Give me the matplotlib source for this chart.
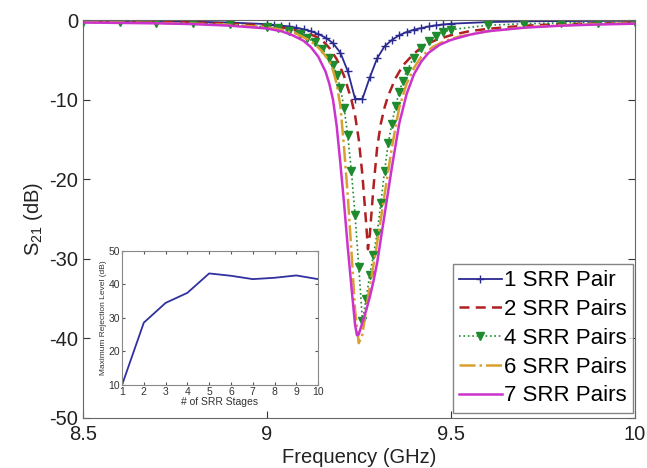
import matplotlib
matplotlib.use("Agg")
import matplotlib.pyplot as plt

plt.rcParams['font.family'] = ['Liberation Sans', 'DejaVu Sans']
plt.rcParams['mathtext.default'] = 'regular'
plt.rcParams['axes.unicode_minus'] = False

# ---- main plot data ----
f_1 = [8.5, 8.6, 8.7, 8.8, 8.9, 9.0, 9.02, 9.04, 9.06, 9.08, 9.10, 9.12, 9.14, 9.16,
       9.18, 9.20, 9.22, 9.24, 9.26, 9.28, 9.30, 9.32, 9.34, 9.36, 9.38, 9.40, 9.42,
       9.44, 9.46, 9.48, 9.50, 9.6, 9.7, 9.8, 9.9, 10.0]
s_1 = [-0.1, -0.12, -0.15, -0.2, -0.3, -0.5, -0.6, -0.7, -0.8, -0.95, -1.15, -1.4, -1.75, -2.2,
       -2.9, -4.1, -6.4, -9.9, -9.9, -7.2, -4.8, -3.3, -2.5, -1.9, -1.5, -1.2, -1.0,
       -0.8, -0.65, -0.55, -0.45, -0.25, -0.15, -0.12, -0.1, -0.08]

f_2 = [8.5, 8.6, 8.7, 8.8, 8.9, 9.0, 9.05, 9.10, 9.13, 9.15, 9.17, 9.19, 9.21, 9.23, 9.24,
       9.25, 9.26, 9.27, 9.275, 9.28, 9.29, 9.30, 9.31, 9.32, 9.33, 9.35, 9.37, 9.40, 9.43,
       9.46, 9.50, 9.55, 9.6, 9.7, 9.8, 9.9, 10.0]
s_2 = [-0.15, -0.18, -0.22, -0.3, -0.45, -0.7, -1.0, -1.5, -2.0, -2.5, -3.5, -4.9, -7.0, -10.0, -12.0,
       -15.0, -19.5, -25.5, -28.8, -27.0, -21.0, -16.0, -13.0, -11.0, -9.5, -7.3, -5.7, -4.2, -3.1,
       -2.5, -1.9, -1.4, -1.1, -0.7, -0.5, -0.4, -0.3]

f_4 = [8.5, 8.6, 8.7, 8.8, 8.9, 9.0, 9.03, 9.06, 9.09, 9.11, 9.13, 9.15, 9.17, 9.18, 9.19,
       9.20, 9.21, 9.22, 9.23, 9.24, 9.25, 9.26, 9.27, 9.28, 9.29, 9.30, 9.31, 9.32, 9.33,
       9.34, 9.35, 9.36, 9.37, 9.38, 9.40, 9.42, 9.44, 9.46, 9.48, 9.50, 9.6, 9.7, 9.8, 9.9, 10.0]
s_4 = [-0.2, -0.25, -0.3, -0.4, -0.55, -0.85, -1.05, -1.35, -1.75, -2.2, -2.8, -3.6, -4.8, -5.7, -6.9,
       -8.5, -11.0, -14.5, -19.0, -24.5, -31.0, -37.8, -35.0, -32.0, -29.5, -26.8, -23.0, -19.0, -15.5,
       -13.0, -10.8, -9.0, -7.6, -6.4, -4.7, -3.5, -2.6, -2.0, -1.5, -1.2, -0.65, -0.45, -0.35, -0.3, -0.25]

f_6 = [8.5, 8.6, 8.7, 8.8, 8.9, 9.0, 9.04, 9.08, 9.11, 9.13, 9.15, 9.17, 9.18, 9.19, 9.20,
       9.21, 9.22, 9.23, 9.24, 9.25, 9.26, 9.27, 9.28, 9.29, 9.30, 9.32, 9.34, 9.36, 9.38,
       9.40, 9.42, 9.45, 9.48, 9.52, 9.6, 9.7, 9.8, 9.9, 10.0]
s_6 = [-0.25, -0.3, -0.35, -0.45, -0.6, -0.9, -1.2, -1.7, -2.4, -3.0, -3.9, -5.2, -6.3, -8.0, -10.8,
       -16.0, -22.0, -29.0, -36.5, -40.6, -39.5, -36.3, -33.5, -30.8, -28.0, -22.0, -16.0, -11.0, -8.0,
       -6.0, -4.6, -3.4, -2.7, -2.1, -1.4, -0.9, -0.65, -0.5, -0.4]

f_7 = [8.5, 8.6, 8.7, 8.8, 8.9, 9.0, 9.04, 9.07, 9.10, 9.12, 9.14, 9.16, 9.17, 9.18, 9.19,
       9.20, 9.21, 9.22, 9.23, 9.24, 9.245, 9.25, 9.26, 9.27, 9.28, 9.29, 9.30, 9.32, 9.34,
       9.36, 9.38, 9.40, 9.42, 9.44, 9.47, 9.50, 9.55, 9.6, 9.7, 9.8, 9.9, 10.0]
s_7 = [-0.3, -0.35, -0.4, -0.5, -0.7, -1.05, -1.4, -1.9, -2.6, -3.4, -4.6, -6.5, -8.0, -10.0, -13.3,
       -18.0, -23.0, -28.5, -33.5, -38.3, -39.6, -39.5, -38.0, -36.5, -34.8, -32.8, -30.5, -24.5, -18.5,
       -13.0, -9.3, -6.8, -5.2, -4.1, -3.1, -2.5, -1.85, -1.4, -0.95, -0.7, -0.55, -0.45]

# ---- inset data ----
stages = [1, 2, 3, 4, 5, 6, 7, 8, 9, 10]
max_rej = [10, 28.6, 34.5, 37.5, 43.3, 42.6, 41.6, 42.0, 42.7, 41.6]

fig = plt.figure(figsize=(6.47, 4.68), dpi=100, facecolor='white')
ax = fig.add_axes([0.128, 0.107, 0.853, 0.850])

ax.plot(f_1, s_1, color='#2A2A90', lw=1.3, marker='+', ms=5.5, mew=1.0, label='1 SRR Pair')
ax.plot(f_2, s_2, color='#B02020', lw=1.8, ls=(0, (4, 2.5)), label='2 SRR Pairs')
ax.plot(f_4, s_4, color='#1E8B2E', lw=1.2, ls=':', marker='v', ms=5.5, mfc='#1E8B2E', mec='#1E8B2E',
        label='4 SRR Pairs')
ax.plot(f_6, s_6, color='#D9A030', lw=1.8, ls='-.', label='6 SRR Pairs')
ax.plot(f_7, s_7, color='#CC33CC', lw=1.8, label='7 SRR Pairs')

ax.set_xlim(8.5, 10)
ax.set_ylim(-50, 0)
ax.set_xticks([8.5, 9, 9.5, 10])
ax.set_xticklabels(['8.5', '9', '9.5', '10'])
ax.set_yticks([-50, -40, -30, -20, -10, 0])
ax.tick_params(direction='in', top=True, right=True, length=5, labelsize=14.5, colors='#333333',
               labelcolor='#222222')
ax.tick_params(axis='x', pad=5)
for sp in ax.spines.values():
    sp.set_color('#666666')
ax.set_xlabel('Frequency (GHz)', fontsize=14.5, labelpad=3, color='#222222')
ax.set_ylabel('S$_{21}$ (dB)', fontsize=14.5, labelpad=3, color='#222222')

leg = ax.legend(loc='lower right', bbox_to_anchor=(0.997, 0.012), borderaxespad=0, fontsize=16,
                fancybox=False, edgecolor='#666666', labelspacing=0.35, handlelength=1.9,
                handletextpad=0.1, borderpad=0.3)
leg.get_frame().set_linewidth(1.0)

# ---- inset ----
ins = fig.add_axes([0.1886, 0.1774, 0.303, 0.2863])
ins.plot(stages, max_rej, color='#3030A0', lw=1.3)
ins.set_xlim(1, 10)
ins.set_ylim(10, 50)
ins.set_xticks(stages)
ins.set_yticks([10, 20, 30, 40, 50])
ins.tick_params(direction='in', top=True, right=True, length=2.5, labelsize=7.5, pad=1.5,
                colors='#555555', labelcolor='#333333')
for sp in ins.spines.values():
    sp.set_color('#888888')
ins.set_xlabel('# of SRR Stages', fontsize=7.5, labelpad=0, color='#333333')
ins.set_ylabel('Maximum Rejection Level (dB)', fontsize=6, labelpad=1, color='#333333')

fig.savefig('out.png', dpi=100, facecolor='white')
